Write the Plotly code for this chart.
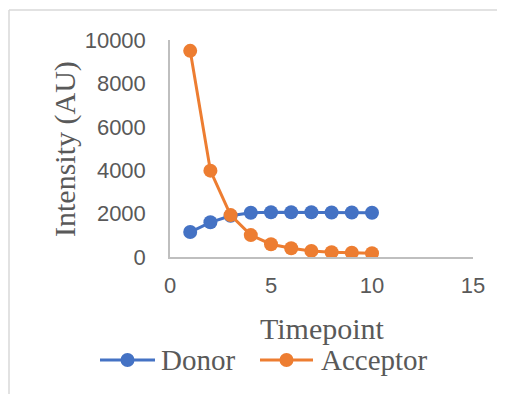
import plotly.graph_objects as go

timepoints = [1, 2, 3, 4, 5, 6, 7, 8, 9, 10]
donor = [1150, 1600, 1900, 2040, 2060, 2060, 2060, 2050, 2050, 2040]
acceptor = [9500, 3980, 1930, 1010, 590, 400, 280, 220, 200, 170]
x_ticks = [0, 5, 10, 15]
y_ticks = [0, 2000, 4000, 6000, 8000, 10000]
series_names = ["Donor", "Acceptor"]
series_colors = ["#4472C4", "#ED7D31"]

OFF = 8  # page body offset
W, H = 505 - OFF, 394 - OFF
ml, mt = 170 - OFF, 40 - OFF
pw, ph = 303, 217
mr, mb = W - ml - pw, H - mt - ph

def px_x(p):
    return (p - OFF - ml) / pw

def px_y(p):
    return (mt + ph - (p - OFF)) / ph

fig = go.Figure()
for name, ys, col in zip(series_names, [donor, acceptor], series_colors):
    fig.add_trace(go.Scatter(x=timepoints, y=ys, name=name, mode="lines+markers",
                             line=dict(color=col, width=3),
                             marker=dict(color=col, size=14)))

tick_font = dict(family="Liberation Sans", size=22, color="#595959")
serif = dict(family="Liberation Serif", size=29, color="#595959")

annotations = [
    dict(text="Intensity (AU)", xref="paper", yref="paper", x=px_x(65), y=px_y(149),
         xanchor="center", yanchor="middle", textangle=-90, showarrow=False,
         font=dict(serif, size=30)),
    dict(text="Timepoint", xref="paper", yref="paper", x=px_x(322), y=px_y(328),
         xanchor="center", yanchor="middle", showarrow=False,
         font=dict(serif, size=30)),
]
border = dict(color="#D9D9D9", width=1.5)
shapes = [
    dict(type="line", xref="paper", yref="paper", x0=px_x(9), x1=px_x(505),
         y0=px_y(10), y1=px_y(10), line=border, layer="below"),
    dict(type="line", xref="paper", yref="paper", x0=px_x(9), x1=px_x(9),
         y0=px_y(10), y1=px_y(394), line=border, layer="below"),
]

# custom legend
leg_y = 360
leg_items = [(100, 155, 159), (260, 313, 319)]
for (lx0, lx1, tx), name, col in zip(leg_items, series_names, series_colors):
    shapes.append(dict(type="line", xref="paper", yref="paper", x0=px_x(lx0), x1=px_x(lx1),
                       y0=px_y(leg_y), y1=px_y(leg_y), line=dict(color=col, width=3)))
    shapes.append(dict(type="circle", xref="paper", yref="paper",
                       xsizemode="pixel", ysizemode="pixel",
                       xanchor=px_x((lx0 + lx1) / 2), yanchor=px_y(leg_y),
                       x0=-7, x1=7, y0=-7, y1=7,
                       fillcolor=col, line=dict(color=col, width=0)))
    annotations.append(dict(text=name, xref="paper", yref="paper", x=px_x(tx), y=px_y(leg_y),
                            xanchor="left", yanchor="middle", showarrow=False, font=serif))

fig.update_layout(
    width=W, height=H,
    margin=dict(l=ml, r=mr, t=mt, b=mb, autoexpand=False),
    paper_bgcolor="white", plot_bgcolor="white",
    showlegend=False,
    xaxis=dict(range=[0, 15], tickvals=x_ticks, ticktext=[str(v) for v in x_ticks],
               showgrid=False, zeroline=False,
               showline=True, linecolor="#BFBFBF", linewidth=1.5,
               ticks="outside", ticklen=8, tickcolor="rgba(0,0,0,0)",
               tickfont=tick_font, fixedrange=True),
    yaxis=dict(range=[0, 10000], tickvals=y_ticks, ticktext=[str(v) for v in y_ticks],
               showgrid=False, zeroline=False,
               showline=True, linecolor="#BFBFBF", linewidth=1.5,
               ticks="outside", ticklen=18, tickcolor="rgba(0,0,0,0)",
               tickfont=tick_font, fixedrange=True),
    annotations=annotations,
    shapes=shapes,
)

fig.write_html("out.html")
